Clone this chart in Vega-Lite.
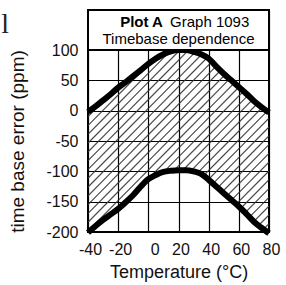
{
  "$schema": "https://vega.github.io/schema/vega-lite/v6.json",
  "width": 181,
  "height": 222,
  "autosize": {"type": "none"},
  "padding": {"left": 88, "top": 10, "right": 17, "bottom": 53},
  "background": "white",
  "config": {
    "view": {"stroke": "black", "strokeWidth": 2},
    "font": "Liberation Sans",
    "axis": {
      "ticks": false, "domain": false,
      "grid": true, "gridColor": "black", "gridWidth": 1.2, "gridOpacity": 1,
      "labelFont": "Liberation Sans", "labelFontSize": 16, "labelColor": "#111",
      "labelFlush": false, "labelOverlap": false,
      "titleFont": "Liberation Sans", "titleFontWeight": "normal", "titleColor": "#111"
    },
    "axisX": {
      "labelPadding": 9, "labelOffset": 2,
      "titleFontSize": 18, "titleY": 40, "titleBaseline": "middle"
    },
    "axisY": {
      "labelPadding": 10, "labelBaseline": "middle",
      "titleFontSize": 19, "titleX": -71, "titleY": 131, "titleBaseline": "middle", "titleAlign": "center"
    }
  },
  "data": {"values": [
    {"T": -40, "upper": -2, "lower": -201},
    {"T": -35, "upper": 7, "lower": -190},
    {"T": -30, "upper": 17, "lower": -180},
    {"T": -25, "upper": 27, "lower": -171},
    {"T": -20, "upper": 38, "lower": -162},
    {"T": -15, "upper": 47, "lower": -151},
    {"T": -10, "upper": 57, "lower": -139},
    {"T": -5, "upper": 67, "lower": -125},
    {"T": 0, "upper": 77, "lower": -113},
    {"T": 5, "upper": 86, "lower": -106},
    {"T": 10, "upper": 93, "lower": -101},
    {"T": 15, "upper": 98, "lower": -99},
    {"T": 20, "upper": 100, "lower": -98},
    {"T": 25, "upper": 100, "lower": -98},
    {"T": 30, "upper": 97, "lower": -100},
    {"T": 35, "upper": 93, "lower": -104},
    {"T": 40, "upper": 86, "lower": -114},
    {"T": 45, "upper": 73, "lower": -125},
    {"T": 50, "upper": 61, "lower": -136},
    {"T": 55, "upper": 50, "lower": -147},
    {"T": 60, "upper": 39, "lower": -158},
    {"T": 65, "upper": 28, "lower": -170},
    {"T": 70, "upper": 16, "lower": -183},
    {"T": 75, "upper": 6, "lower": -193},
    {"T": 80, "upper": -3, "lower": -202}
  ]},
  "layer": [
    {
      "mark": {
        "type": "area",
        "interpolate": "monotone",
        "fill": {
          "gradient": "linear", "x1": 0, "y1": 0, "x2": 1, "y2": 1,
          "stops": [
            {"offset": 0.010, "color": "rgba(0,0,0,0)"}, {"offset": 0.014, "color": "#444"}, {"offset": 0.018, "color": "rgba(0,0,0,0)"},
            {"offset": 0.034, "color": "rgba(0,0,0,0)"}, {"offset": 0.038, "color": "#444"}, {"offset": 0.042, "color": "rgba(0,0,0,0)"},
            {"offset": 0.058, "color": "rgba(0,0,0,0)"}, {"offset": 0.062, "color": "#444"}, {"offset": 0.066, "color": "rgba(0,0,0,0)"},
            {"offset": 0.082, "color": "rgba(0,0,0,0)"}, {"offset": 0.086, "color": "#444"}, {"offset": 0.090, "color": "rgba(0,0,0,0)"},
            {"offset": 0.106, "color": "rgba(0,0,0,0)"}, {"offset": 0.110, "color": "#444"}, {"offset": 0.114, "color": "rgba(0,0,0,0)"},
            {"offset": 0.130, "color": "rgba(0,0,0,0)"}, {"offset": 0.134, "color": "#444"}, {"offset": 0.138, "color": "rgba(0,0,0,0)"},
            {"offset": 0.154, "color": "rgba(0,0,0,0)"}, {"offset": 0.158, "color": "#444"}, {"offset": 0.162, "color": "rgba(0,0,0,0)"},
            {"offset": 0.178, "color": "rgba(0,0,0,0)"}, {"offset": 0.182, "color": "#444"}, {"offset": 0.186, "color": "rgba(0,0,0,0)"},
            {"offset": 0.202, "color": "rgba(0,0,0,0)"}, {"offset": 0.206, "color": "#444"}, {"offset": 0.210, "color": "rgba(0,0,0,0)"},
            {"offset": 0.226, "color": "rgba(0,0,0,0)"}, {"offset": 0.230, "color": "#444"}, {"offset": 0.234, "color": "rgba(0,0,0,0)"},
            {"offset": 0.250, "color": "rgba(0,0,0,0)"}, {"offset": 0.254, "color": "#444"}, {"offset": 0.258, "color": "rgba(0,0,0,0)"},
            {"offset": 0.274, "color": "rgba(0,0,0,0)"}, {"offset": 0.278, "color": "#444"}, {"offset": 0.282, "color": "rgba(0,0,0,0)"},
            {"offset": 0.298, "color": "rgba(0,0,0,0)"}, {"offset": 0.302, "color": "#444"}, {"offset": 0.306, "color": "rgba(0,0,0,0)"},
            {"offset": 0.322, "color": "rgba(0,0,0,0)"}, {"offset": 0.326, "color": "#444"}, {"offset": 0.330, "color": "rgba(0,0,0,0)"},
            {"offset": 0.346, "color": "rgba(0,0,0,0)"}, {"offset": 0.350, "color": "#444"}, {"offset": 0.354, "color": "rgba(0,0,0,0)"},
            {"offset": 0.370, "color": "rgba(0,0,0,0)"}, {"offset": 0.374, "color": "#444"}, {"offset": 0.378, "color": "rgba(0,0,0,0)"},
            {"offset": 0.394, "color": "rgba(0,0,0,0)"}, {"offset": 0.398, "color": "#444"}, {"offset": 0.402, "color": "rgba(0,0,0,0)"},
            {"offset": 0.418, "color": "rgba(0,0,0,0)"}, {"offset": 0.422, "color": "#444"}, {"offset": 0.426, "color": "rgba(0,0,0,0)"},
            {"offset": 0.442, "color": "rgba(0,0,0,0)"}, {"offset": 0.446, "color": "#444"}, {"offset": 0.450, "color": "rgba(0,0,0,0)"},
            {"offset": 0.466, "color": "rgba(0,0,0,0)"}, {"offset": 0.470, "color": "#444"}, {"offset": 0.474, "color": "rgba(0,0,0,0)"},
            {"offset": 0.490, "color": "rgba(0,0,0,0)"}, {"offset": 0.494, "color": "#444"}, {"offset": 0.498, "color": "rgba(0,0,0,0)"},
            {"offset": 0.514, "color": "rgba(0,0,0,0)"}, {"offset": 0.518, "color": "#444"}, {"offset": 0.522, "color": "rgba(0,0,0,0)"},
            {"offset": 0.538, "color": "rgba(0,0,0,0)"}, {"offset": 0.542, "color": "#444"}, {"offset": 0.546, "color": "rgba(0,0,0,0)"},
            {"offset": 0.562, "color": "rgba(0,0,0,0)"}, {"offset": 0.566, "color": "#444"}, {"offset": 0.570, "color": "rgba(0,0,0,0)"},
            {"offset": 0.586, "color": "rgba(0,0,0,0)"}, {"offset": 0.590, "color": "#444"}, {"offset": 0.594, "color": "rgba(0,0,0,0)"},
            {"offset": 0.610, "color": "rgba(0,0,0,0)"}, {"offset": 0.614, "color": "#444"}, {"offset": 0.618, "color": "rgba(0,0,0,0)"},
            {"offset": 0.634, "color": "rgba(0,0,0,0)"}, {"offset": 0.638, "color": "#444"}, {"offset": 0.642, "color": "rgba(0,0,0,0)"},
            {"offset": 0.658, "color": "rgba(0,0,0,0)"}, {"offset": 0.662, "color": "#444"}, {"offset": 0.666, "color": "rgba(0,0,0,0)"},
            {"offset": 0.682, "color": "rgba(0,0,0,0)"}, {"offset": 0.686, "color": "#444"}, {"offset": 0.690, "color": "rgba(0,0,0,0)"},
            {"offset": 0.706, "color": "rgba(0,0,0,0)"}, {"offset": 0.710, "color": "#444"}, {"offset": 0.714, "color": "rgba(0,0,0,0)"},
            {"offset": 0.730, "color": "rgba(0,0,0,0)"}, {"offset": 0.734, "color": "#444"}, {"offset": 0.738, "color": "rgba(0,0,0,0)"},
            {"offset": 0.754, "color": "rgba(0,0,0,0)"}, {"offset": 0.758, "color": "#444"}, {"offset": 0.762, "color": "rgba(0,0,0,0)"},
            {"offset": 0.778, "color": "rgba(0,0,0,0)"}, {"offset": 0.782, "color": "#444"}, {"offset": 0.786, "color": "rgba(0,0,0,0)"},
            {"offset": 0.802, "color": "rgba(0,0,0,0)"}, {"offset": 0.806, "color": "#444"}, {"offset": 0.810, "color": "rgba(0,0,0,0)"},
            {"offset": 0.826, "color": "rgba(0,0,0,0)"}, {"offset": 0.830, "color": "#444"}, {"offset": 0.834, "color": "rgba(0,0,0,0)"},
            {"offset": 0.850, "color": "rgba(0,0,0,0)"}, {"offset": 0.854, "color": "#444"}, {"offset": 0.858, "color": "rgba(0,0,0,0)"},
            {"offset": 0.874, "color": "rgba(0,0,0,0)"}, {"offset": 0.878, "color": "#444"}, {"offset": 0.882, "color": "rgba(0,0,0,0)"},
            {"offset": 0.898, "color": "rgba(0,0,0,0)"}, {"offset": 0.902, "color": "#444"}, {"offset": 0.906, "color": "rgba(0,0,0,0)"},
            {"offset": 0.922, "color": "rgba(0,0,0,0)"}, {"offset": 0.926, "color": "#444"}, {"offset": 0.930, "color": "rgba(0,0,0,0)"},
            {"offset": 0.946, "color": "rgba(0,0,0,0)"}, {"offset": 0.950, "color": "#444"}, {"offset": 0.954, "color": "rgba(0,0,0,0)"},
            {"offset": 0.970, "color": "rgba(0,0,0,0)"}, {"offset": 0.974, "color": "#444"}, {"offset": 0.978, "color": "rgba(0,0,0,0)"}
          ]
        }
      },
      "encoding": {
        "x": {
          "field": "T", "type": "quantitative", "title": "Temperature (°C)",
          "scale": {"domain": [-40, 80], "nice": false, "zero": false},
          "axis": {"values": [-40, -20, 0, 20, 40, 60, 80], "labelExpr": "'' + datum.value", "labelAlign": {"condition": {"test": "datum.value == 0", "value": "left"}, "value": "center"}}
        },
        "y": {
          "field": "lower", "type": "quantitative", "title": "time base error (ppm)",
          "scale": {"domain": [-200, 166], "nice": false, "zero": false},
          "axis": {"values": [-200, -150, -100, -50, 0, 50, 100], "labelExpr": "'' + datum.value"}
        },
        "y2": {"field": "upper"}
      }
    },
    {
      "mark": {"type": "line", "color": "black", "strokeWidth": 6, "interpolate": "monotone"},
      "encoding": {
        "x": {"field": "T", "type": "quantitative", "title": "Temperature (°C)", "axis": {"values": [-40, -20, 0, 20, 40, 60, 80], "labelExpr": "'' + datum.value", "labelAlign": {"condition": {"test": "datum.value == 0", "value": "left"}, "value": "center"}}},
        "y": {"field": "upper", "type": "quantitative", "title": "time base error (ppm)", "axis": {"values": [-200, -150, -100, -50, 0, 50, 100], "labelExpr": "'' + datum.value"}}
      }
    },
    {
      "mark": {"type": "line", "color": "black", "strokeWidth": 6, "interpolate": "monotone"},
      "encoding": {
        "x": {"field": "T", "type": "quantitative", "title": "Temperature (°C)", "axis": {"values": [-40, -20, 0, 20, 40, 60, 80], "labelExpr": "'' + datum.value", "labelAlign": {"condition": {"test": "datum.value == 0", "value": "left"}, "value": "center"}}},
        "y": {"field": "lower", "type": "quantitative", "title": "time base error (ppm)", "axis": {"values": [-200, -150, -100, -50, 0, 50, 100], "labelExpr": "'' + datum.value"}}
      }
    },
    {
      "data": {"values": [{}]},
      "mark": {"type": "rect", "fill": "white", "stroke": "black", "strokeWidth": 2},
      "encoding": {
        "x": {"datum": -40, "type": "quantitative", "title": "Temperature (°C)", "axis": {"values": [-40, -20, 0, 20, 40, 60, 80], "labelExpr": "'' + datum.value", "labelAlign": {"condition": {"test": "datum.value == 0", "value": "left"}, "value": "center"}}},
        "x2": {"datum": 80},
        "y": {"datum": 100, "type": "quantitative", "title": "time base error (ppm)", "axis": {"values": [-200, -150, -100, -50, 0, 50, 100], "labelExpr": "'' + datum.value"}},
        "y2": {"datum": 166}
      }
    },
    {
      "data": {"values": [{"label": "Plot A"}]},
      "mark": {"type": "text", "font": "Liberation Sans", "fontSize": 15, "fontWeight": "bold", "align": "right", "baseline": "middle", "color": "black"},
      "encoding": {
        "x": {"datum": 9.7, "type": "quantitative", "title": "Temperature (°C)", "axis": {"values": [-40, -20, 0, 20, 40, 60, 80], "labelExpr": "'' + datum.value", "labelAlign": {"condition": {"test": "datum.value == 0", "value": "left"}, "value": "center"}}},
        "y": {"datum": 146, "type": "quantitative", "title": "time base error (ppm)", "axis": {"values": [-200, -150, -100, -50, 0, 50, 100], "labelExpr": "'' + datum.value"}},
        "text": {"field": "label"}
      }
    },
    {
      "data": {"values": [{"label": "Graph 1093"}]},
      "mark": {"type": "text", "font": "Liberation Sans", "fontSize": 15, "align": "left", "baseline": "middle", "color": "black"},
      "encoding": {
        "x": {"datum": 14.4, "type": "quantitative", "title": "Temperature (°C)", "axis": {"values": [-40, -20, 0, 20, 40, 60, 80], "labelExpr": "'' + datum.value", "labelAlign": {"condition": {"test": "datum.value == 0", "value": "left"}, "value": "center"}}},
        "y": {"datum": 146, "type": "quantitative", "title": "time base error (ppm)", "axis": {"values": [-200, -150, -100, -50, 0, 50, 100], "labelExpr": "'' + datum.value"}},
        "text": {"field": "label"}
      }
    },
    {
      "data": {"values": [{"label": "Timebase dependence"}]},
      "mark": {"type": "text", "font": "Liberation Sans", "fontSize": 15, "align": "center", "baseline": "middle", "color": "black"},
      "encoding": {
        "x": {"datum": 20, "type": "quantitative", "title": "Temperature (°C)", "axis": {"values": [-40, -20, 0, 20, 40, 60, 80], "labelExpr": "'' + datum.value", "labelAlign": {"condition": {"test": "datum.value == 0", "value": "left"}, "value": "center"}}},
        "y": {"datum": 118, "type": "quantitative", "title": "time base error (ppm)", "axis": {"values": [-200, -150, -100, -50, 0, 50, 100], "labelExpr": "'' + datum.value"}},
        "text": {"field": "label"}
      }
    },
    {
      "data": {"values": [{"label": "l"}]},
      "mark": {"type": "text", "font": "Liberation Serif", "fontSize": 28, "align": "center", "baseline": "alphabetic", "color": "#222"},
      "encoding": {
        "x": {"datum": -95, "type": "quantitative", "title": "Temperature (°C)", "axis": {"values": [-40, -20, 0, 20, 40, 60, 80], "labelExpr": "'' + datum.value", "labelAlign": {"condition": {"test": "datum.value == 0", "value": "left"}, "value": "center"}}},
        "y": {"datum": 128, "type": "quantitative", "title": "time base error (ppm)", "axis": {"values": [-200, -150, -100, -50, 0, 50, 100], "labelExpr": "'' + datum.value"}},
        "text": {"field": "label"}
      }
    }
  ]
}
